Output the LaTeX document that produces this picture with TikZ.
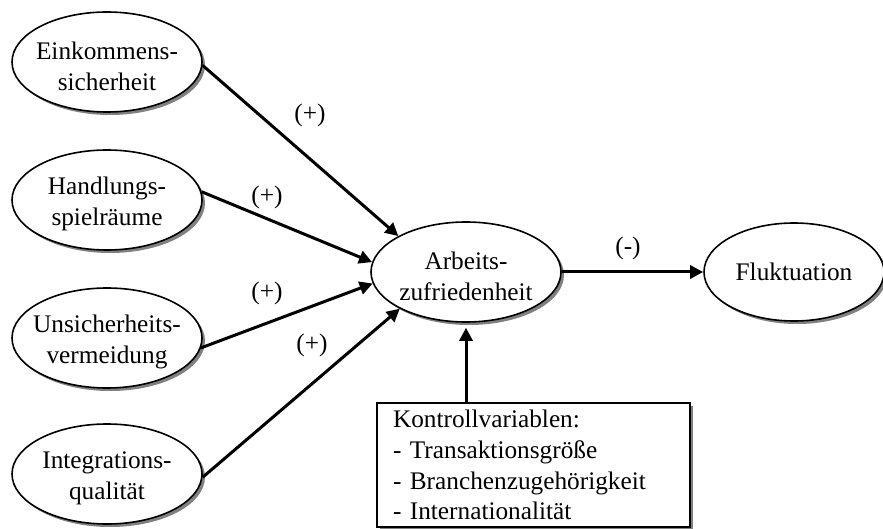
\documentclass[tikz,border=0pt]{standalone}
\usepackage{fontspec}
\setmainfont{Liberation Serif}
\usetikzlibrary{arrows.meta,shadows,shapes.geometric}
\begin{document}
\begin{tikzpicture}[x=0.5pt,y=-0.5pt,
  ell/.style={ellipse,draw,line width=0.8pt,fill=white,inner sep=0pt,
     minimum width=95pt,minimum height=50pt,
     drop shadow={shadow xshift=1.5pt,shadow yshift=-1.5pt,fill=black!50,opacity=1}},
  txt/.style={align=center,font=\fontsize{12.65pt}{15.4pt}\selectfont,inner sep=0pt},
  lbl/.style={font=\fontsize{12.65pt}{15.4pt}\selectfont,inner sep=0pt},
  arr/.style={line width=1.5pt,-{Triangle[length=6.5pt,width=6.5pt]}},
  ]
\useasboundingbox (0,0) rectangle (883,529);

\node[ell] (E) at (107,62) {};
\node[txt,yshift=-2pt] (Et) at (E) {Einkommens-\\sicherheit};
\node[ell] (H) at (107,200) {};
\node[txt,yshift=-2pt] (Ht) at (H) {Handlungs-\\spielräume};
\node[ell] (U) at (107,338) {};
\node[txt,yshift=-2pt] (Ut) at (U) {Unsicherheits-\\vermeidung};
\node[ell] (I) at (107,474) {};
\node[txt,yshift=-2pt] (It) at (I) {Integrations-\\qualität};

\node[ell] (A) at (466,272) {};
\node[txt,yshift=-2pt] (At) at (A) {Arbeits-\\zufriedenheit};
\node[ell,minimum width=90pt,minimum height=49pt] (F) at (794,272) {};
\node[txt] (Ft) at (F) {Fluktuation};

\node[draw,line width=0.8pt,fill=white,minimum width=156.5pt,minimum height=62pt,
  text width=140.5pt,inner xsep=8pt,inner ysep=0pt,align=left,
  font=\fontsize{12.65pt}{15.4pt}\selectfont,
  drop shadow={shadow xshift=1.5pt,shadow yshift=-1.5pt,fill=black!50,opacity=1}]
  (K) at (533.5,465) {Kontrollvariablen:\\- Transaktionsgröße\\- Branchenzugehörigkeit\\- Internationalität};

\draw[arr] (E.-2) -- (A.152);
\draw[arr] (H.5) -- (A.174);
\draw[arr] (U.-6) -- (A.187);
\draw[arr] (I.-2) -- (A.209);
\draw[arr] (A.east) -- (F.west);
\draw[arr] (K.north -| A.south) -- ([yshift=-2.5pt]A.south);

\node[lbl] (l1) at (310,115) {(+)};
\node[lbl] (l2) at (267,197) {(+)};
\node[lbl] (l3) at (267,293) {(+)};
\node[lbl] (l4) at (312,345) {(+)};
\node[lbl] (l5) at (628,248) {(-)};
\end{tikzpicture}
\end{document}
